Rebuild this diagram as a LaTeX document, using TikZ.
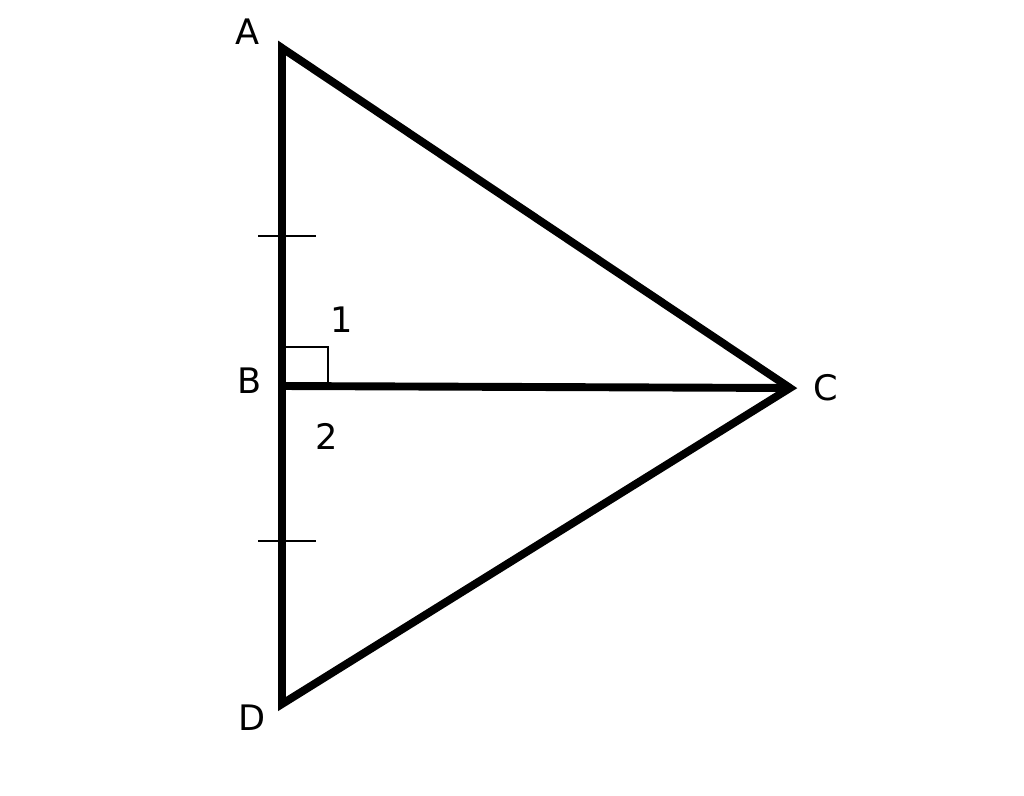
\documentclass[tikz,border=0pt]{standalone}
\usepackage{fontspec}
\setmainfont{DejaVu Sans}
\usetikzlibrary{positioning}

\tikzset{
    side/.style={line width=4.5pt, line join=miter},
    thin mark/.style={line width=1.1pt},
    lbl/.style={font=\fontsize{20}{24}\selectfont, inner sep=0pt}
}

\begin{document}
\begin{tikzpicture}[x=0.02cm, y=-0.02cm]
    \useasboundingbox (0,0) rectangle (1024,795);
    \coordinate (A) at (282,48);
    \coordinate (B) at (282,386);
    \coordinate (C) at (790,388);
    \coordinate (D) at (282,704);
    \coordinate (t1) at (282,236);
    \coordinate (t2) at (282,541);
    % triangle and height
    \draw[side] (D) -- (A) -- (C) -- cycle;
    \draw[side] (B) -- (C);
    % equal marks
    \draw[thin mark] ([xshift=-24*0.02cm]t1) -- ([xshift=34*0.02cm]t1);
    \draw[thin mark] ([xshift=-24*0.02cm]t2) -- ([xshift=34*0.02cm]t2);
    % right angle
    \draw[thin mark] (282,347) -- (328,347) -- (328,384);
    \node[lbl] (lA) at (248,32) {A};
    \node[lbl] (lB) at (250,381) {B};
    \node[lbl] (lC) at (826,388) {C};
    \node[lbl] (lD) at (252,718) {D};
    \node[lbl] (l1) at (342,320) {1};
    \node[lbl] (l2) at (327,436) {2};
\end{tikzpicture}
\end{document}
